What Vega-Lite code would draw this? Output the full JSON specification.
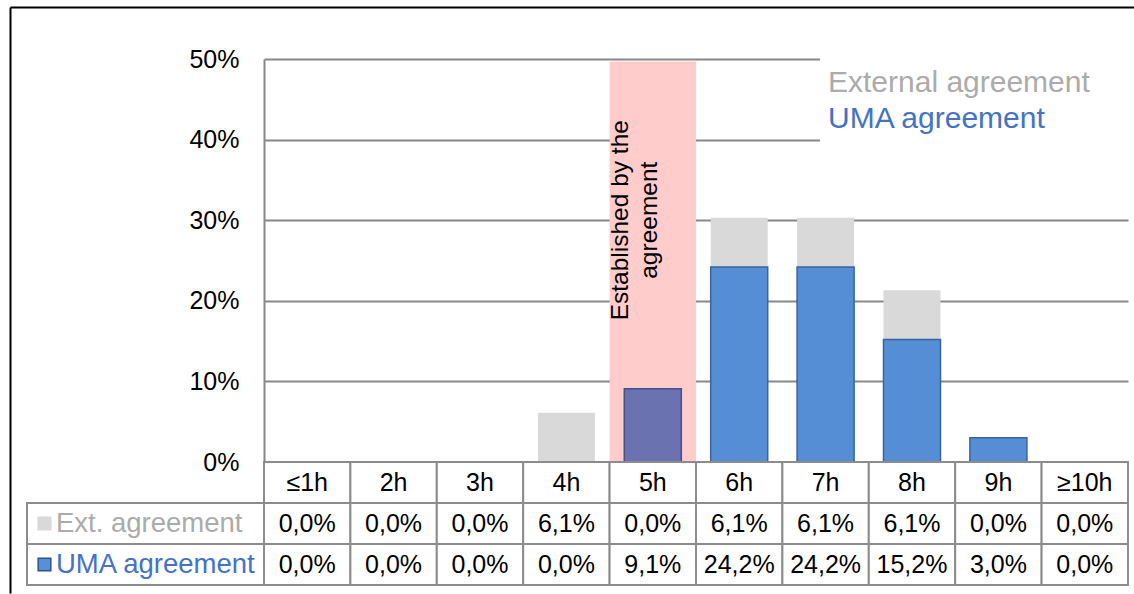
{
  "$schema": "https://vega.github.io/schema/vega-lite/v6.json",
  "padding": {"left": 7, "top": 7, "right": 0, "bottom": 0},
  "bounds": "flush",
  "spacing": 0,
  "columns": 2,
  "datasets": {
    "shares": [
      {"hour": "≤1h", "series": "Ext. agreement", "value": 0},
      {"hour": "≤1h", "series": "UMA agreement", "value": 0},
      {"hour": "2h", "series": "Ext. agreement", "value": 0},
      {"hour": "2h", "series": "UMA agreement", "value": 0},
      {"hour": "3h", "series": "Ext. agreement", "value": 0},
      {"hour": "3h", "series": "UMA agreement", "value": 0},
      {"hour": "4h", "series": "Ext. agreement", "value": 0.061},
      {"hour": "4h", "series": "UMA agreement", "value": 0},
      {"hour": "5h", "series": "Ext. agreement", "value": 0},
      {"hour": "5h", "series": "UMA agreement", "value": 0.091},
      {"hour": "6h", "series": "Ext. agreement", "value": 0.061},
      {"hour": "6h", "series": "UMA agreement", "value": 0.242},
      {"hour": "7h", "series": "Ext. agreement", "value": 0.061},
      {"hour": "7h", "series": "UMA agreement", "value": 0.242},
      {"hour": "8h", "series": "Ext. agreement", "value": 0.061},
      {"hour": "8h", "series": "UMA agreement", "value": 0.152},
      {"hour": "9h", "series": "Ext. agreement", "value": 0},
      {"hour": "9h", "series": "UMA agreement", "value": 0.03},
      {"hour": "≥10h", "series": "Ext. agreement", "value": 0},
      {"hour": "≥10h", "series": "UMA agreement", "value": 0}
    ]
  },
  "resolve": {
    "scale": {"x": "independent", "y": "independent", "fill": "independent", "stroke": "independent"},
    "legend": {"fill": "independent"}
  },
  "concat": [
    {
      "width": 237,
      "height": 403,
      "data": {"values": [{}]},
      "mark": {"type": "point", "opacity": 0},
      "encoding": {
        "x": {
          "datum": 0, "type": "quantitative",
          "scale": {"domain": [0, 1], "range": [-17, 1109]},
          "axis": {"orient": "top", "offset": 52, "domainColor": "#000000", "domainWidth": 2, "ticks": false, "labels": false, "grid": false, "title": null}
        },
        "y": {
          "datum": 0, "type": "quantitative",
          "scale": {"domain": [0, 1], "range": [534, -52]},
          "axis": {"orient": "left", "offset": 17, "domainColor": "#000000", "domainWidth": 2, "ticks": false, "labels": false, "grid": false, "title": null}
        }
      }
    },
    {
      "width": 864,
      "height": 403,
      "layer": [
        {
          "data": {"values": [{"hour": "5h"}]},
          "mark": {"type": "rect", "color": "#FFCCCC"},
          "encoding": {
            "x": {
              "field": "hour", "type": "nominal",
              "scale": {"domain": ["≤1h", "2h", "3h", "4h", "5h", "6h", "7h", "8h", "9h", "≥10h"], "paddingInner": 0, "paddingOuter": 0},
              "axis": null
            },
            "y": {
              "datum": 0, "type": "quantitative",
              "scale": {"domain": [0, 0.5], "nice": false},
              "axis": {"values": [0, 0.1, 0.2, 0.3, 0.4, 0.5], "format": ".0%", "grid": true, "gridColor": "#878787", "gridWidth": 2, "domain": true, "domainColor": "#878787", "domainWidth": 2, "ticks": false, "labelFontSize": 25, "labelColor": "#000000", "labelPadding": 25, "title": null}
            },
            "y2": {"datum": 0.497}
          }
        },
        {
          "data": {"name": "shares"},
          "transform": [{"filter": "datum.value > 0"}],
          "mark": {"type": "bar", "strokeWidth": 1.5},
          "encoding": {
            "x": {
              "field": "hour", "type": "nominal",
              "scale": {"domain": ["≤1h", "2h", "3h", "4h", "5h", "6h", "7h", "8h", "9h", "≥10h"], "paddingInner": 0.34, "paddingOuter": 0.17},
              "axis": null
            },
            "y": {
              "field": "value", "type": "quantitative", "stack": "zero",
              "scale": {"domain": [0, 0.5], "nice": false},
              "axis": {"values": [0, 0.1, 0.2, 0.3, 0.4, 0.5], "format": ".0%", "grid": true, "gridColor": "#878787", "gridWidth": 2, "domain": true, "domainColor": "#878787", "domainWidth": 2, "ticks": false, "labelFontSize": 25, "labelColor": "#000000", "labelPadding": 25, "title": null}
            },
            "order": {"field": "series", "type": "nominal", "sort": "descending"},
            "fill": {
              "condition": {"test": "datum.hour === '5h' && datum.series === 'UMA agreement'", "value": "#6A72B0"},
              "field": "series", "type": "nominal",
              "scale": {"domain": ["Ext. agreement", "UMA agreement"], "range": ["#D9D9D9", "#558ED5"]},
              "legend": {
                "orient": "none", "legendX": 556, "legendY": -2,
                "title": null,
                "labelFontSize": 30, "labelLimit": 450,
                "labelExpr": "datum.label === 'Ext. agreement' ? 'External agreement' : datum.label",
                "labelColor": {"expr": "datum.value === 'UMA agreement' ? '#4472C4' : '#ABABAB'"},
                "symbolType": "square", "symbolSize": 16, "symbolOpacity": 0, "symbolStrokeWidth": 0,
                "symbolOffset": 283, "labelOffset": -316,
                "padding": 11, "rowPadding": 6, "fillColor": "white"
              }
            },
            "stroke": {
              "condition": [
                {"test": "datum.hour === '5h' && datum.series === 'UMA agreement'", "value": "#474E8E"},
                {"test": "datum.series === 'UMA agreement'", "value": "#3A63A0"}
              ],
              "value": "transparent"
            }
          }
        },
        {
          "data": {"values": [{"hour": "5h"}]},
          "mark": {"type": "text", "text": ["Established by the", "agreement"], "angle": 270, "fontSize": 24.5, "lineHeight": 29, "align": "center", "baseline": "middle", "dy": -32, "color": "#000000"},
          "encoding": {
            "x": {
              "field": "hour", "type": "nominal",
              "scale": {"domain": ["≤1h", "2h", "3h", "4h", "5h", "6h", "7h", "8h", "9h", "≥10h"], "paddingInner": 0, "paddingOuter": 0},
              "axis": null
            },
            "y": {"datum": 0.3, "type": "quantitative"}
          }
        }
      ],
      "resolve": {"scale": {"x": "independent"}}
    },
    {
      "width": 237,
      "height": 123,
      "data": {"name": "shares"},
      "transform": [{"aggregate": [{"op": "count", "as": "n"}], "groupby": ["series"]}],
      "encoding": {
        "y": {
          "field": "series", "type": "nominal",
          "scale": {"domain": ["header", "Ext. agreement", "UMA agreement"], "paddingInner": 0, "paddingOuter": 0},
          "axis": null
        }
      },
      "layer": [
        {"mark": {"type": "rect", "fill": "white", "stroke": "#8C8C8C", "strokeWidth": 2}},
        {
          "mark": {"type": "point", "shape": "square", "filled": true, "size": 160, "xOffset": 17.5, "strokeWidth": 1.5, "opacity": 1},
          "encoding": {
            "x": {"datum": 0, "type": "quantitative", "scale": {"domain": [0, 1]}, "axis": null},
            "fill": {"condition": {"test": "datum.series === 'UMA agreement'", "value": "#5A8ED6"}, "value": "#D9D9D9"},
            "stroke": {"condition": {"test": "datum.series === 'UMA agreement'", "value": "#2F528F"}, "value": "#D9D9D9"}
          }
        },
        {
          "mark": {"type": "text", "align": "left", "baseline": "middle", "dx": 29, "fontSize": 27.5},
          "encoding": {
            "x": {"datum": 0, "type": "quantitative", "scale": {"domain": [0, 1]}, "axis": null},
            "text": {"field": "series"},
            "color": {"condition": {"test": "datum.series === 'UMA agreement'", "value": "#4472C4"}, "value": "#ABABAB"}
          }
        }
      ]
    },
    {
      "width": 864,
      "height": 123,
      "data": {"name": "shares"},
      "encoding": {
        "x": {
          "field": "hour", "type": "nominal",
          "scale": {"domain": ["≤1h", "2h", "3h", "4h", "5h", "6h", "7h", "8h", "9h", "≥10h"], "paddingInner": 0, "paddingOuter": 0},
          "axis": null
        }
      },
      "layer": [
        {
          "mark": {"type": "rect", "fill": "white", "stroke": "#8C8C8C", "strokeWidth": 2},
          "encoding": {
            "y": {
              "field": "series", "type": "nominal",
              "scale": {"domain": ["header", "Ext. agreement", "UMA agreement"], "paddingInner": 0, "paddingOuter": 0},
              "axis": null
            }
          }
        },
        {
          "mark": {"type": "text", "baseline": "middle", "fontSize": 25, "color": "#000000"},
          "encoding": {
            "y": {"field": "series", "type": "nominal"},
            "text": {"field": "value", "type": "quantitative", "format": ".1%"}
          }
        },
        {
          "transform": [{"filter": "datum.series === 'UMA agreement'"}],
          "mark": {"type": "rect", "fill": "white", "stroke": "#8C8C8C", "strokeWidth": 2},
          "encoding": {"y": {"datum": "header", "type": "nominal"}}
        },
        {
          "transform": [{"filter": "datum.series === 'UMA agreement'"}],
          "mark": {"type": "text", "baseline": "middle", "fontSize": 25, "color": "#000000"},
          "encoding": {
            "y": {"datum": "header", "type": "nominal"},
            "text": {"field": "hour", "type": "nominal"}
          }
        }
      ]
    }
  ],
  "config": {
    "font": "Liberation Sans",
    "view": {"stroke": null},
    "locale": {"number": {"decimal": ",", "thousands": ".", "grouping": [3], "currency": ["", " €"]}}
  }
}
